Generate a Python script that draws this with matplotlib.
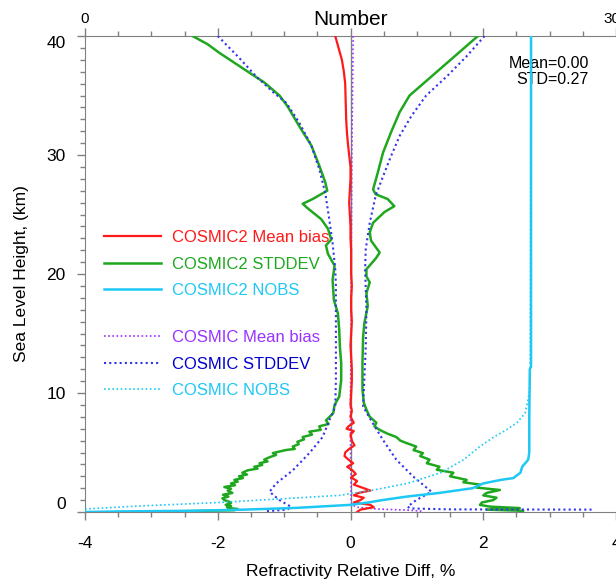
import matplotlib
matplotlib.use("Agg")
import matplotlib.pyplot as plt
from matplotlib.ticker import MultipleLocator

plt.rcParams["font.family"] = ["Liberation Sans", "DejaVu Sans"]
plt.rcParams["axes.unicode_minus"] = False

# ---- data (height in km, value) ----
c2_bias_h = [40, 39, 38, 37, 36, 35, 34, 33, 32, 31, 30, 29, 28, 27, 26, 25, 24, 23, 22, 21,
             20, 19, 18, 17, 16, 15, 14, 13, 12, 11, 10, 9, 8.5, 8, 7.5, 7.2, 7.0, 6.8, 6.5,
             6.0, 5.6, 5.3, 5.0, 4.7, 4.4, 4.1, 3.8, 3.5, 3.2, 2.9, 2.6, 2.3, 2.0, 1.8, 1.6,
             1.4, 1.2, 1.0, 0.8, 0.6, 0.4, 0.2, 0.0]
c2_bias = [-0.23, -0.18, -0.13, -0.10, -0.08, -0.075, -0.07, -0.065, -0.055, -0.04, -0.02,
           0.0, 0.0, -0.01, -0.02, -0.01, 0.0, 0.0, 0.01, 0.01, 0.01, 0.02, 0.01, 0.01, 0.02,
           0.01, 0.0, 0.01, 0.02, 0.02, 0.01, 0.0, 0.02, 0.0, 0.05, -0.03, -0.06, 0.05, 0.0,
           0.02, 0.06, -0.02, -0.08, -0.09, -0.03, 0.04, -0.05, 0.03, 0.08, 0.01, 0.10, 0.05,
           0.20, 0.30, 0.12, 0.05, 0.20, 0.15, 0.05, 0.30, 0.35, 0.15, 0.10]

c2_std_neg_h = [40, 39.3, 38.6, 37.2, 36.1, 35.0, 34.1, 32.4, 30.8, 29.1, 27.7, 27.0, 26.3,
                25.9, 25.5, 24.6, 23.8, 22.9, 22.4, 21.7, 20.7, 19.5, 17.8, 16.7, 15.3, 13.9,
                12.5, 11.1, 9.7, 9.0, 8.3, 7.7, 7.4, 7.2, 6.9, 6.75, 6.5, 6.3, 6.1, 5.9, 5.7,
                5.5, 5.3, 5.2, 4.95, 4.8, 4.6, 4.4, 4.25, 4.1, 3.95, 3.8, 3.65, 3.5, 3.3,
                3.15, 3.0, 2.85, 2.7, 2.55, 2.4, 2.25, 2.1, 1.95, 1.8, 1.6, 1.45, 1.3, 1.15,
                1.0, 0.85, 0.75, 0.6, 0.5, 0.4, 0.33, 0.25, 0.15, 0.08, 0.03]
c2_std_neg = [-2.38, -2.15, -1.98, -1.6, -1.3, -1.07, -0.95, -0.77, -0.59, -0.47, -0.38,
              -0.35, -0.57, -0.72, -0.64, -0.44, -0.34, -0.29, -0.37, -0.34, -0.24, -0.27,
              -0.25, -0.19, -0.17, -0.16, -0.14, -0.14, -0.17, -0.24, -0.26, -0.37, -0.33,
              -0.47, -0.45, -0.62, -0.58, -0.72, -0.70, -0.80, -0.78, -0.87, -0.84, -0.98,
              -1.17, -1.12, -1.22, -1.30, -1.25, -1.37, -1.33, -1.45, -1.40, -1.55, -1.63,
              -1.56, -1.68, -1.62, -1.75, -1.70, -1.80, -1.74, -1.90, -1.80, -1.85, -1.78,
              -1.92, -1.84, -1.93, -1.90, -1.82, -1.80, -1.88, -1.80, -1.86, -1.82, -1.70,
              -1.75, -2.40, -2.90]

c2_std_pos_h = [40, 38.3, 36.6, 35.0, 33.6, 31.9, 30.2, 28.5, 27.1, 26.7, 26.3, 25.7, 25.2,
                24.3, 23.5, 22.8, 21.8, 21.3, 20.4, 19.8, 19.3, 18.4, 17.3, 15.9, 14.7, 12.5,
                10.3, 9.2, 8.6, 8.0, 7.5, 7.2, 6.9, 6.6, 6.3, 6.0, 5.8, 5.5, 5.2, 4.95, 4.7,
                4.4, 4.1, 3.8, 3.55, 3.3, 3.0, 2.7, 2.5, 2.3, 2.05, 1.85, 1.6, 1.4, 1.2, 1.0,
                0.8, 0.6, 0.45, 0.33, 0.2, 0.1]
c2_std_pos = [1.92, 1.57, 1.22, 0.89, 0.74, 0.61, 0.49, 0.41, 0.34, 0.38, 0.56, 0.66, 0.51,
              0.34, 0.29, 0.31, 0.44, 0.38, 0.24, 0.24, 0.29, 0.24, 0.26, 0.21, 0.19, 0.18,
              0.18, 0.20, 0.24, 0.29, 0.39, 0.36, 0.44, 0.55, 0.69, 0.75, 0.84, 0.99, 0.95,
              1.09, 1.05, 1.19, 1.15, 1.34, 1.30, 1.55, 1.50, 1.75, 1.70, 1.95, 1.90, 2.25,
              2.05, 2.00, 2.20, 2.15, 1.98, 1.95, 2.10, 2.55, 2.05, 2.60]

c2_nobs_h = [0.0, 0.05, 0.1, 0.2, 0.35, 0.6, 0.8, 1.0, 1.3, 1.6, 2.0, 2.4, 2.7, 2.85, 3.3,
             3.8, 4.4, 5.0, 8.0, 12.0, 12.2, 40]
c2_nobs = [0, 20, 60, 90, 120, 150, 160, 168, 182, 200, 219, 225, 235, 242, 246, 247, 250.4,
           251, 251, 251.3, 252, 252]

c1_bias_h = [40, 35, 30, 25, 20, 15, 10, 5, 2, 1, 0.6, 0.4, 0.25, 0.15, 0.05]
c1_bias = [0.04, 0.03, 0.02, 0.015, 0.01, 0.01, 0.0, 0.0, 0.01, 0.01, 0.02, 0.1, 0.4, 0.9, 1.1]

c1_std_neg_h = [40, 38.3, 36.6, 35.2, 34.4, 32.7, 30.8, 28.8, 26.8, 24.6, 22.6, 20.4, 19,
                16.7, 13.9, 11.1, 8.85, 7.7, 6.3, 4.95, 3.5, 2.4, 1.7, 1.0, 0.45, 0.2, 0.05]
c1_std_neg = [-2.0, -1.70, -1.42, -1.15, -0.97, -0.77, -0.59, -0.47, -0.38, -0.32, -0.27,
              -0.23, -0.22, -0.22, -0.22, -0.22, -0.23, -0.32, -0.42, -0.62, -0.87, -1.12,
              -1.22, -1.07, -0.90, -0.95, -1.30]

c1_std_pos_h = [40, 38.3, 36.6, 35.0, 33.3, 31.6, 29.9, 28.2, 26.6, 24.3, 22.1, 20.4, 17,
                13.9, 8.85, 7.7, 6.05, 4.4, 3.0, 1.7, 1.0, 0.45, 0.3, 0.22, 0.2]
c1_std_pos = [2.02, 1.75, 1.45, 1.14, 0.92, 0.74, 0.61, 0.49, 0.38, 0.29, 0.23, 0.22, 0.24,
              0.23, 0.19, 0.31, 0.49, 0.69, 0.94, 1.22, 0.99, 0.86, 0.90, 1.50, 3.64]

c1_nobs_h = [0.25, 0.5, 0.8, 1.1, 1.4, 1.85, 2.4, 3.3, 4.4, 5.5, 6.3, 6.9, 7.5, 8.3, 9.2,
             10.5, 40]
c1_nobs = [0, 30, 76, 110, 144, 163, 182, 201, 214, 223, 231, 238, 244, 248.6, 250, 251.5, 252]

c2_labels = ["COSMIC2 Mean bias", "COSMIC2 STDDEV", "COSMIC2 NOBS"]
c1_labels = ["COSMIC Mean bias", "COSMIC STDDEV", "COSMIC NOBS"]

RED = "#ff1a1a"
GREEN = "#1fa81f"
CYAN = "#1ec8f5"
PURPLE = "#9933ff"
BLUE = "#3333ee"
GREY = "#808080"

fig = plt.figure(figsize=(6.16, 5.82), dpi=100)
ax = fig.add_axes([85 / 616, 70 / 582, 531 / 616, 476 / 582])
ax2 = ax.twiny()

ax.axvline(0, color=GREY, lw=1.0, zorder=1)

l_c2b, = ax.plot(c2_bias, c2_bias_h, color=RED, lw=1.6, zorder=5)
l_c2s, = ax.plot(c2_std_neg, c2_std_neg_h, color=GREEN, lw=1.8, zorder=3)
ax.plot(c2_std_pos, c2_std_pos_h, color=GREEN, lw=1.8, zorder=3)
l_c1b, = ax.plot(c1_bias, c1_bias_h, color=PURPLE, lw=1.2, ls=(0, (1, 1.5)), zorder=4)
l_c1s, = ax.plot(c1_std_neg, c1_std_neg_h, color=BLUE, lw=1.5, ls=(0, (1, 1.5)), zorder=4)
ax.plot(c1_std_pos, c1_std_pos_h, color=BLUE, lw=1.5, ls=(0, (1, 1.5)), zorder=4)

l_c2n, = ax2.plot(c2_nobs, c2_nobs_h, color=CYAN, lw=1.8)
l_c1n, = ax2.plot(c1_nobs, c1_nobs_h, color=CYAN, lw=1.2, ls=(0, (1, 1.5)))

ax.set_xlim(-4, 4)
ax.set_ylim(0, 40)
ax2.set_xlim(0, 300)
ax2.set_ylim(0, 40)

# bottom / left axis
ax.set_xticks([-4, -2, 0, 2, 4])
ax.set_yticks([0, 10, 20, 30, 40])
ax.xaxis.set_minor_locator(MultipleLocator(0.5))
ax.yaxis.set_minor_locator(MultipleLocator(1))
ax.tick_params(which="both", color=GREY, top=True, right=False, labelsize=12.5)
ax.tick_params(which="major", length=6, width=1)
ax.tick_params(which="minor", length=3.5, width=1)
ax.tick_params(axis="x", pad=11)
ax.tick_params(axis="y", pad=8)
for s in ["left", "bottom", "top"]:
    ax.spines[s].set_color(GREY)
ax.spines["right"].set_visible(False)

ylabels = ax.get_yticklabels()
ylabels[0].set_va("bottom")
ylabels[-1].set_va("top")

ax.set_xlabel("Refractivity Relative Diff, %", fontsize=12.5, va="center")
ax.xaxis.set_label_coords(0.5, -0.126)
ax.set_ylabel("Sea Level Height, (km)", fontsize=12.5, va="center")
ax.yaxis.set_label_coords(-0.119, 0.5)

# top axis (number of observations)
ax2.set_xticks([0, 300])
ax2.tick_params(axis="x", length=0, pad=7, labelsize=11)
for s in ax2.spines.values():
    s.set_visible(False)
ax2.set_xlabel("Number", fontsize=15, va="center")
ax2.xaxis.set_label_coords(0.5, 1.034)

ax.text(0.949, 0.925, "Mean=0.00\nSTD=0.27", transform=ax.transAxes, ha="right",
        va="center", fontsize=11.5, linespacing=1.1)

leg_kw = dict(loc="upper left", frameon=False, borderpad=0, borderaxespad=0,
              handlelength=3.4, handletextpad=0.65, labelspacing=0.69,
              prop={"family": ["Liberation Sans Narrow", "Liberation Sans"], "size": 12})
leg1 = ax.legend([l_c2b, l_c2s, l_c2n], c2_labels, bbox_to_anchor=(0.036, 0.592),
                 labelcolor=[RED, GREEN, CYAN], **leg_kw)
ax.add_artist(leg1)
ax.legend([l_c1b, l_c1s, l_c1n], c1_labels, bbox_to_anchor=(0.036, 0.382),
          labelcolor=[PURPLE, "#0000cc", CYAN], **leg_kw)

fig.savefig("out.png", dpi=100)
